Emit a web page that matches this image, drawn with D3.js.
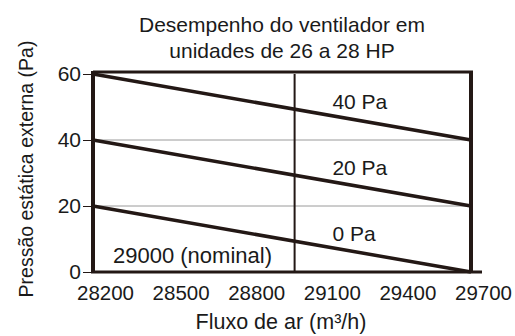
<!DOCTYPE html>
<html>
<head>
<meta charset="utf-8">
<script src="https://cdn.jsdelivr.net/npm/d3@7"></script>
<style>
  body { margin: 0; background: #fff; }
  #chart { width: 515px; height: 336px; }
  text { font-family: "Liberation Sans", Arial, sans-serif; fill: #1a1a1a; }
</style>
</head>
<body>
<div id="chart"></div>
<script>
var flowTicks = [28200, 28500, 28800, 29100, 29400, 29700];
var pressureTicks = [0, 20, 40, 60];
var curveNames = ["40 Pa", "20 Pa", "0 Pa"];
var curveStart = [60, 40, 20];   // pressure at 28200
var curveEnd = [40, 20, 0];      // pressure at 29700
var labelFlow = [29150, 29150, 29150];
var labelPressure = [49.5, 29.5, 9.5];
var nominalFlow = 29000;
var titleLines = ["Desempenho do ventilador em", "unidades de 26 a 28 HP"];

var width = 515, height = 336;
var ink = "#231815";

var svg = d3.select("#chart")
    .append("svg")
    .attr("width", width)
    .attr("height", height);

var x = d3.scaleLinear().domain([28200, 29700]).range([93, 471]);
var y = d3.scaleLinear().domain([0, 60]).range([272, 74]);

// gray grid lines
svg.selectAll(".grid")
    .data([20, 40])
    .enter()
    .append("line")
        .attr("x1", x(28200)).attr("x2", x(29700))
        .attr("y1", function(d) { return y(d); })
        .attr("y2", function(d) { return y(d); })
        .attr("stroke", "#9a9a9a")
        .attr("stroke-width", 1);

// nominal flow line
svg.append("line")
    .attr("x1", x(nominalFlow)).attr("x2", x(nominalFlow))
    .attr("y1", y(60)).attr("y2", y(0))
    .attr("stroke", ink)
    .attr("stroke-width", 2);

// frame: top, right
svg.append("line")
    .attr("x1", x(28200)).attr("x2", x(29700) + 2)
    .attr("y1", y(60) - 2).attr("y2", y(60) - 2)
    .attr("stroke", ink).attr("stroke-width", 3);
svg.append("line")
    .attr("x1", x(29700)).attr("x2", x(29700))
    .attr("y1", y(60) - 3).attr("y2", y(0))
    .attr("stroke", ink).attr("stroke-width", 4);

// fan curves
var curves = curveNames.map(function(n, i) {
    return { name: n, pts: [[28200, curveStart[i]], [29700, curveEnd[i]]] };
});

var line = d3.line()
    .x(function(d) { return x(d[0]); })
    .y(function(d) { return y(d[1]); });

svg.selectAll(".curve")
    .data(curves)
    .enter()
    .append("path")
        .attr("class", "curve")
        .attr("d", function(d) { return line(d.pts); })
        .attr("fill", "none")
        .attr("stroke", ink)
        .attr("stroke-width", 3.5);

svg.selectAll(".clabel")
    .data(curveNames)
    .enter()
    .append("text")
        .attr("x", function(d, i) { return x(labelFlow[i]); })
        .attr("y", function(d, i) { return y(labelPressure[i]); })
        .attr("font-size", 21)
        .text(function(d) { return d; });

svg.append("text")
    .attr("x", x(28200) + 20)
    .attr("y", 263)
    .attr("font-size", 22)
    .attr("fill", "#333")
    .text(nominalFlow + " (nominal)");

// axes
var xAxis = svg.append("g")
    .attr("transform", "translate(0," + y(0) + ")")
    .call(d3.axisBottom(x).tickValues(flowTicks).tickSize(0).tickPadding(13).tickFormat(d3.format("d")));
xAxis.select(".domain").remove();
xAxis.selectAll("text")
    .attr("font-size", 20.5)
    .attr("dx", 12)
    .style("font-family", "'Liberation Sans', Arial, sans-serif")
    .attr("fill", "#1a1a1a");

svg.append("line")
    .attr("x1", x(28200) - 2).attr("x2", x(29700) + 11)
    .attr("y1", y(0)).attr("y2", y(0))
    .attr("stroke", ink).attr("stroke-width", 3);

var yAxis = svg.append("g")
    .attr("transform", "translate(" + x(28200) + ",0)")
    .call(d3.axisLeft(y).tickValues(pressureTicks).tickSize(10).tickPadding(2));
yAxis.select(".domain").remove();
yAxis.selectAll("line").attr("stroke", ink).attr("stroke-width", 1);
yAxis.selectAll("text")
    .attr("font-size", 21)
    .style("font-family", "'Liberation Sans', Arial, sans-serif")
    .attr("fill", "#1a1a1a");

svg.append("line")
    .attr("x1", x(28200)).attr("x2", x(28200))
    .attr("y1", y(60) - 3).attr("y2", y(0) + 1)
    .attr("stroke", ink).attr("stroke-width", 4);

// titles
svg.selectAll(".title")
    .data(titleLines)
    .enter()
    .append("text")
        .attr("x", 282)
        .attr("y", function(d, i) { return 32 + i * 26; })
        .attr("text-anchor", "middle")
        .attr("font-size", 21)
        .text(function(d) { return d; });

svg.append("text")
    .attr("x", 281)
    .attr("y", 329)
    .attr("text-anchor", "middle")
    .attr("font-size", 21.5)
    .text("Fluxo de ar (m³/h)");

svg.append("text")
    .attr("transform", "translate(33,169) rotate(-90)")
    .attr("text-anchor", "middle")
    .attr("font-size", 19.5)
    .text("Pressão estática externa (Pa)");
</script>
</body>
</html>
